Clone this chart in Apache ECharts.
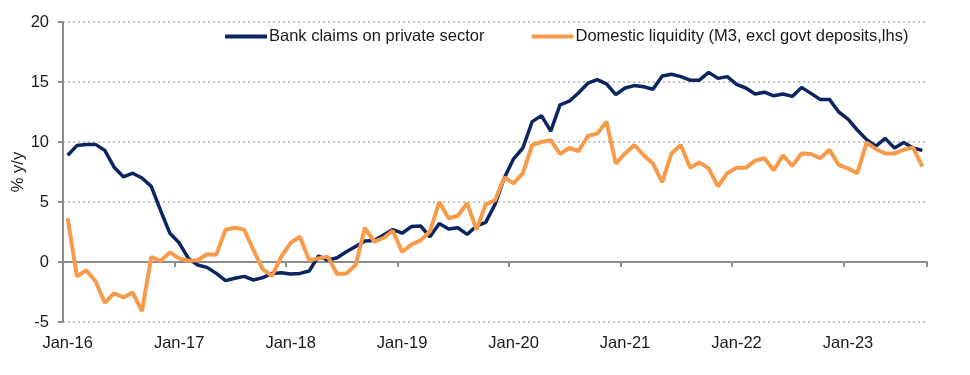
<!DOCTYPE html>
<html>
<head>
<meta charset="utf-8">
<script src="https://cdn.jsdelivr.net/npm/echarts@6/dist/echarts.min.js"></script>
<style>
html,body{margin:0;padding:0;background:#fff;}
#chart{width:970px;height:375px;}
</style>
</head>
<body>
<div id="chart"></div>
<script>
// Monthly categories Jan-16 .. Sep-23
var monthNames = ['Jan','Feb','Mar','Apr','May','Jun','Jul','Aug','Sep','Oct','Nov','Dec'];
var years = ['16','17','18','19','20','21','22','23'];
var lastMonthIndexOfFinalYear = 8; // Sep-23
var categories = [];
years.forEach(function (y, yi) {
  monthNames.forEach(function (m, mi) {
    if (yi === years.length - 1 && mi > lastMonthIndexOfFinalYear) return;
    categories.push(m + '-' + y);
  });
});

var seriesNames = ['Bank claims on private sector', 'Domestic liquidity (M3, excl govt deposits,lhs)'];

var bankClaims = [
  8.9, 9.7, 9.8, 9.8, 9.3, 7.9, 7.1, 7.4, 7.0, 6.3, 4.3, 2.4,
  1.6, 0.3, -0.25, -0.45, -0.95, -1.55, -1.35, -1.2, -1.5, -1.3, -0.95, -0.9,
  -1.0, -0.95, -0.75, 0.5, 0.15, 0.35, 0.85, 1.3, 1.75, 1.8, 2.25, 2.7,
  2.4, 2.95, 3.0, 2.1, 3.2, 2.75, 2.85, 2.3, 3.0, 3.3, 4.8, 7.0,
  8.6, 9.5, 11.7, 12.2, 10.9, 13.1, 13.4, 14.1, 14.9, 15.2, 14.85, 13.95,
  14.5, 14.7, 14.6, 14.4, 15.5, 15.65, 15.45, 15.15, 15.15, 15.8, 15.3, 15.45,
  14.8, 14.5, 14.0, 14.15, 13.85, 14.0, 13.8, 14.55, 14.05, 13.55, 13.55, 12.5,
  11.9, 11.0, 10.2, 9.65, 10.3, 9.5, 9.95, 9.5, 9.3
];

var domesticLiquidity = [
  3.65, -1.2, -0.7, -1.6, -3.4, -2.6, -2.95, -2.55, -4.1, 0.4, 0.1, 0.8,
  0.3, 0.1, 0.15, 0.65, 0.6, 2.7, 2.85, 2.7, 1.0, -0.6, -1.15, 0.45,
  1.6, 2.1, 0.15, 0.3, 0.45, -1.0, -0.95, -0.25, 2.85, 1.7, 2.0, 2.6,
  0.85, 1.45, 1.8, 2.55, 5.0, 3.65, 3.85, 4.9, 2.7, 4.8, 5.15, 7.05,
  6.55, 7.4, 9.75, 10.0, 10.15, 9.0, 9.5, 9.25, 10.5, 10.7, 11.7, 8.2,
  9.05, 9.75, 8.9, 8.2, 6.65, 9.05, 9.75, 7.85, 8.3, 7.8, 6.3, 7.4,
  7.85, 7.85, 8.45, 8.65, 7.65, 8.9, 8.0, 9.05, 9.0, 8.65, 9.35, 8.1,
  7.8, 7.4, 9.95, 9.4, 9.05, 9.05, 9.35, 9.55, 7.95
];

var yMin = -5, yMax = 20, yStep = 5;
var yAxisTitle = '% y/y';

var FONT = '"Liberation Sans", Arial, sans-serif';
var TXT = '#1a1a1a';
var AX = '#8c8c8c';
var FS = 16.5;

var chart = echarts.init(document.getElementById('chart'), null, {renderer: 'canvas'});
chart.setOption({
  animation: false,
  textStyle: {fontFamily: FONT},
  grid: {left: 63, right: 43, top: 22, bottom: 53, containLabel: false, outerBoundsMode: 'none'},
  legend: {
    left: 220, top: 23, icon: 'rect',
    itemWidth: 42, itemHeight: 4, itemGap: 47,
    textStyle: {fontFamily: FONT, fontSize: FS, color: TXT, padding: [0, 0, 0, -3]},
    data: seriesNames
  },
  xAxis: [{
    type: 'category', data: categories, boundaryGap: true,
    axisLine: {onZero: true, lineStyle: {color: AX, width: 2}},
    axisTick: {show: true, interval: 11, length: 5, lineStyle: {color: AX, width: 2}},
    axisLabel: {show: false},
    splitLine: {show: false}
  }, {
    type: 'category', data: categories, boundaryGap: true, position: 'bottom',
    axisLine: {show: false, onZero: false},
    axisTick: {show: false},
    axisLabel: {interval: 11, fontSize: FS, color: TXT, fontFamily: FONT, margin: 13},
    splitLine: {show: false}
  }],
  yAxis: {
    type: 'value', min: yMin, max: yMax, interval: yStep,
    name: yAxisTitle, nameLocation: 'middle', nameGap: 36, nameRotate: 90,
    nameMoveOverlap: false,
    nameTextStyle: {fontFamily: FONT, fontSize: FS, color: TXT},
    axisLine: {show: true, lineStyle: {color: AX, width: 2}},
    axisTick: {show: true, length: 5, lineStyle: {color: AX, width: 2}},
    axisLabel: {fontSize: FS, color: TXT, fontFamily: FONT, margin: 14},
    splitLine: {show: true, lineStyle: {color: '#c4c4c4', type: [2, 3], width: 2}}
  },
  series: [{
    name: seriesNames[0], type: 'line', data: bankClaims, xAxisIndex: 0,
    symbol: 'none', smooth: false,
    lineStyle: {color: '#0b2560', width: 3.5}, itemStyle: {color: '#0b2560'}, z: 3
  }, {
    name: seriesNames[1], type: 'line', data: domesticLiquidity, xAxisIndex: 0,
    symbol: 'none', smooth: false,
    lineStyle: {color: '#f79b4b', width: 4}, itemStyle: {color: '#f79b4b'}, z: 4
  }]
});
</script>
</body>
</html>
